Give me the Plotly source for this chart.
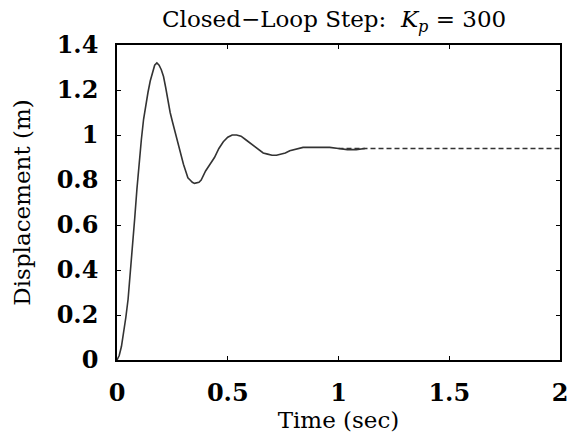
import plotly.graph_objects as go

time_s = [0, 0.01, 0.02, 0.03, 0.04, 0.05, 0.06, 0.07, 0.08, 0.09, 0.10, 0.11, 0.12, 0.13, 0.14,
          0.15, 0.16, 0.17, 0.18, 0.19, 0.20, 0.21, 0.22, 0.23, 0.24, 0.25, 0.26, 0.27, 0.28, 0.29,
          0.30, 0.31, 0.32, 0.33, 0.34, 0.35, 0.36, 0.37, 0.38, 0.39, 0.40, 0.42, 0.44, 0.46, 0.48,
          0.50, 0.52, 0.54, 0.56, 0.58, 0.60, 0.62, 0.64, 0.66, 0.68, 0.70, 0.72, 0.74, 0.76, 0.78,
          0.80, 0.84, 0.88, 0.92, 0.96, 1.00, 1.04, 1.08, 1.12]
displacement = [0, 0.02, 0.06, 0.12, 0.19, 0.27, 0.38, 0.50, 0.63, 0.76, 0.88, 0.98, 1.07, 1.14, 1.19,
                1.24, 1.28, 1.31, 1.32, 1.31, 1.29, 1.26, 1.21, 1.15, 1.10, 1.06, 1.02, 0.98, 0.94, 0.90,
                0.87, 0.84, 0.81, 0.80, 0.79, 0.785, 0.787, 0.79, 0.80, 0.82, 0.84, 0.87, 0.90, 0.94, 0.97,
                0.99, 1.00, 1.00, 0.995, 0.98, 0.965, 0.95, 0.935, 0.92, 0.915, 0.91, 0.91, 0.915, 0.92, 0.93,
                0.935, 0.945, 0.945, 0.945, 0.945, 0.94, 0.935, 0.935, 0.94]
steady_t = [1.0, 2.0]
steady_value = [0.94, 0.94]

x_ticks = [0, 0.5, 1, 1.5, 2]
x_tick_labels = ["0", "0.5", "1", "1.5", "2"]
y_ticks = [0, 0.2, 0.4, 0.6, 0.8, 1, 1.2, 1.4]
y_tick_labels = ["0", "0.2", "0.4", "0.6", "0.8", "1", "1.2", "1.4"]

chart_title = "Closed\u2212Loop Step:  <i>K</i><sub><i>p</i></sub> = 300"

SERIF = "DejaVu Serif"

fig = go.Figure()
fig.add_trace(go.Scatter(x=steady_t, y=steady_value, mode="lines",
                         line=dict(color="#333333", width=1.3, dash="5px,3px"),
                         hoverinfo="skip", showlegend=False))
fig.add_trace(go.Scatter(x=time_s, y=displacement, mode="lines",
                         line=dict(color="#333333", width=1.6),
                         showlegend=False))

axis_common = dict(showline=True, linecolor="black", linewidth=1.5, mirror="allticks",
                   ticks="inside", ticklen=4, tickwidth=1.2, tickcolor="black",
                   showgrid=False, zeroline=False, ticklabeloverflow="allow",
                   tickfont=dict(family=SERIF, size=24, color="black", weight="bold"))

fig.update_layout(
    width=577, height=441,
    margin=dict(l=117, r=9, t=45, b=81),
    paper_bgcolor="white", plot_bgcolor="white",
    font=dict(family=SERIF, color="black"),
    xaxis=dict(range=[0, 2], tickvals=x_ticks, ticktext=x_tick_labels,
               ticklabelstandoff=10,
               title=dict(text="Time (sec)", standoff=4,
                          font=dict(family=SERIF, size=23, color="black")),
               **axis_common),
    yaxis=dict(range=[0, 1.4], tickvals=y_ticks, ticktext=y_tick_labels,
               ticklabelstandoff=12,
               title=dict(text="Displacement (m)", standoff=20,
                          font=dict(family=SERIF, size=23, color="black")),
               **axis_common),
)
fig.add_annotation(text=chart_title, xref="paper", yref="paper",
                   x=(338 - 117) / (568 - 117), y=1, yshift=24, xanchor="center", yanchor="middle",
                   showarrow=False, font=dict(family=SERIF, size=23, color="black"))

fig.write_html("out.html")
